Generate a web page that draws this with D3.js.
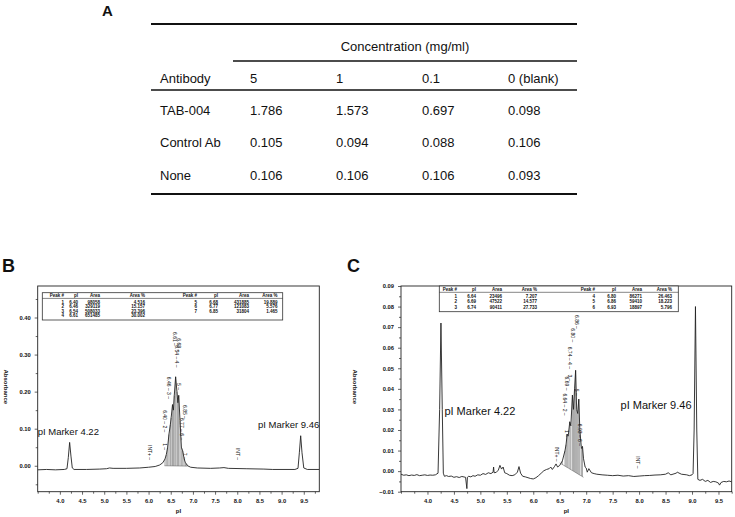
<!DOCTYPE html>
<html><head><meta charset="utf-8">
<script src="https://cdn.jsdelivr.net/npm/d3@7"></script>
<style>
body{margin:0;background:#fff}
svg{display:block}
text{font-family:"Liberation Sans",Arial,Helvetica,sans-serif;fill:#111}
</style>
</head><body>
<svg id="fig" width="735" height="517"></svg>
<script>
// ---------------- DATA ----------------
// Panel A table
const tableConcentrations = ["5", "1", "0.1", "0 (blank)"];
const tableAntibodies = ["TAB-004", "Control Ab", "None"];
const tableValues = [
  [1.786, 1.573, 0.697, 0.098],
  [0.105, 0.094, 0.088, 0.106],
  [0.106, 0.106, 0.106, 0.093]
];

// Panel B electropherogram (pI, absorbance)
const traceB = [
  [3.50,-0.011],[3.70,-0.010],[3.90,-0.011],[4.10,-0.010],[4.16,-0.008],[4.19,0.022],[4.22,0.063],
  [4.25,0.026],[4.28,-0.006],[4.32,-0.010],[4.60,-0.010],[4.90,-0.009],[5.05,-0.008],[5.12,-0.006],
  [5.20,-0.007],[5.50,-0.007],[5.80,-0.006],[6.00,-0.004],[6.15,-0.002],[6.25,0.002],[6.32,0.008],
  [6.37,0.018],[6.40,0.030],[6.43,0.050],[6.46,0.085],[6.49,0.110],[6.51,0.130],[6.54,0.165],
  [6.56,0.150],[6.58,0.190],[6.61,0.240],[6.64,0.200],[6.66,0.170],[6.68,0.190],[6.71,0.120],
  [6.74,0.050],[6.77,0.040],[6.80,0.020],[6.83,0.008],[6.85,0.006],[6.88,0.000],[6.95,-0.004],
  [7.10,-0.006],[7.40,-0.007],[7.60,-0.006],[7.70,-0.005],[7.80,-0.007],[8.20,-0.008],[8.60,-0.009],
  [8.80,-0.010],[9.30,-0.010],[9.37,-0.007],[9.40,0.035],[9.43,0.081],[9.46,0.035],[9.50,-0.006],
  [9.58,-0.010],[9.85,-0.010]
];
const dropsB = [6.37,6.40,6.43,6.46,6.49,6.51,6.54,6.56,6.58,6.61,6.64,6.66,6.68,6.71,6.74,6.77,6.80,6.83,6.85];
const dropBaseB = [[6.36, 0.000], [6.88, -0.001]];
const peakTableB = [
  [1, "6.40", 98058, "4.516"], [2, "6.46", 329119, "15.157"], [3, "6.54", 508033, "23.396"],
  [4, "6.61", 651485, "30.002"], [5, "6.68", 431885, "19.889"], [6, "6.77", 121083, "5.576"],
  [7, "6.85", 31804, "1.465"]
];
const peakLabelsB = [
  ["INT+ –", 6.03, 0.056], ["1 –", 6.37, 0.061], ["6.40 – 2 –", 6.37, 0.150], ["6.46 – 3 –", 6.445, 0.240],
  ["6.61 –", 6.58, 0.361], ["6.54 – 4 –", 6.63, 0.325], ["6.68 –", 6.69, 0.344], ["5 –", 6.69, 0.223],
  ["6.85 –", 6.81, 0.164], ["6.77 – 6 –", 6.75, 0.129], ["7 –", 6.81, 0.035], ["INT –", 8.02, 0.048]
];
const markersB = [["pI Marker 4.22", 3.5, 0.083, "start"], ["pI Marker 9.46", 9.85, 0.101, "end"]];
const xTicksB = [4.0,4.5,5.0,5.5,6.0,6.5,7.0,7.5,8.0,8.5,9.0,9.5];
const yTicksB = [0.00,0.10,0.20,0.30,0.40];

// Panel C electropherogram (pI, absorbance)
const traceC = [
  [3.50,-0.0015],[3.55,-0.0020],[3.60,-0.0018],[3.65,-0.0022],[3.70,-0.0019],[3.75,-0.0021],[3.80,-0.0017],
  [3.85,-0.0022],[3.90,-0.0020],[3.95,-0.0018],[4.00,-0.0021],[4.05,-0.0019],[4.10,-0.0020],[4.15,-0.0018],
  [4.20,-0.0010],[4.23,0.0300],[4.255,0.0720],[4.28,0.0300],[4.30,-0.0010],[4.32,-0.0025],[4.36,-0.0022],
  [4.40,-0.0026],[4.45,-0.0024],[4.50,-0.0030],[4.55,-0.0027],[4.60,-0.0031],[4.65,-0.0026],[4.72,-0.0030],
  [4.745,-0.0085],[4.755,-0.0030],[4.78,-0.0025],[4.82,-0.0028],[4.86,-0.0022],[4.90,-0.0025],[4.95,-0.0018],
  [5.00,-0.0020],[5.05,-0.0012],[5.10,-0.0016],[5.15,-0.0008],[5.20,-0.0012],[5.24,-0.0005],[5.25,0.0020],
  [5.26,-0.0008],[5.30,-0.0006],[5.34,0.0005],[5.37,0.0028],[5.40,0.0010],[5.43,0.0020],[5.46,-0.0008],
  [5.50,-0.0012],[5.55,-0.0020],[5.60,-0.0022],[5.65,-0.0018],[5.70,-0.0005],[5.73,0.0022],[5.76,-0.0010],
  [5.80,-0.0025],[5.85,-0.0028],[5.90,-0.0032],[5.95,-0.0036],[6.00,-0.0038],[6.05,-0.0032],[6.10,-0.0022],
  [6.15,-0.0010],[6.20,0.0002],[6.25,0.0008],[6.30,0.0012],[6.33,0.0020],[6.36,0.0008],[6.40,0.0022],
  [6.43,0.0035],[6.46,0.0020],[6.50,0.0028],[6.55,0.0050],[6.60,0.0100],[6.62,0.0130],[6.64,0.0180],
  [6.66,0.0170],[6.69,0.0240],[6.71,0.0220],[6.74,0.0370],[6.76,0.0300],[6.78,0.0400],[6.80,0.0490],
  [6.82,0.0300],[6.84,0.0280],[6.86,0.0350],[6.88,0.0200],[6.91,0.0110],[6.93,0.0120],[6.95,0.0060],
  [6.98,0.0020],[7.00,0.0015],[7.02,-0.0005],[7.05,0.0012],[7.10,-0.0008],[7.15,-0.0012],[7.20,-0.0015],
  [7.30,-0.0018],[7.40,-0.0020],[7.50,-0.0022],[7.60,-0.0020],[7.70,-0.0024],[7.80,-0.0022],[7.90,-0.0026],
  [8.00,-0.0024],[8.10,-0.0022],[8.20,-0.0021],[8.30,-0.0019],[8.40,-0.0018],[8.50,-0.0015],[8.55,-0.0008],
  [8.60,-0.0018],[8.70,-0.0010],[8.72,-0.0005],[8.80,-0.0015],[8.90,-0.0018],[8.95,-0.0022],[9.00,-0.0018],
  [9.02,-0.0012],[9.04,0.0200],[9.065,0.0800],[9.09,0.0200],[9.11,-0.0040],[9.15,-0.0045],[9.20,-0.0040],
  [9.25,-0.0050],[9.30,-0.0045],[9.35,-0.0055],[9.40,-0.0050],[9.45,-0.0052],[9.50,-0.0058],[9.52,-0.0068],
  [9.55,-0.0055],[9.60,-0.0050],[9.65,-0.0052],[9.70,-0.0048],[9.75,-0.0052]
];
const dropsC = [6.55,6.60,6.62,6.64,6.66,6.69,6.71,6.74,6.76,6.78,6.80,6.82,6.84,6.86,6.88,6.91,6.93];
const dropBaseC = [[6.50, 0.0040], [6.95, -0.0030]];
const peakTableC = [
  [1, "6.64", 23496, "7.207"], [2, "6.69", 47522, "14.577"], [3, "6.74", 90411, "27.733"],
  [4, "6.80", 86271, "26.463"], [5, "6.86", 59410, "18.223"], [6, "6.93", 18897, "5.796"]
];
const peakLabelsC = [
  ["6.86 –", 6.82, 0.0759], ["6.80 –", 6.745, 0.0694], ["6.74 – 4 –", 6.695, 0.0605], ["3 –", 6.68, 0.0470],
  ["6.69 –", 6.63, 0.0460], ["6.64 – 2 –", 6.59, 0.0378], ["1 –", 6.63, 0.0200], ["5 –", 6.82, 0.0400],
  ["6.93 – 6 –", 6.88, 0.0230], ["INT+ –", 6.45, 0.0120], ["INT –", 7.97, 0.0072]
];
const markersC = [["pI Marker 4.22", 4.32, 0.0273, "start"], ["pI Marker 9.46", 7.65, 0.0300, "start"]];
const xTicksC = [4.0,4.5,5.0,5.5,6.0,6.5,7.0,7.5,8.0,8.5,9.0,9.5];
const yTicksC = [-0.01,0.00,0.01,0.02,0.03,0.04,0.05,0.06,0.07,0.08,0.09];

const peakHeaders = ["Peak #", "pI", "Area", "Area %"];

// ---------------- DRAW ----------------
const svg = d3.select("#fig");

// ===== Panel A =====
(function(){
  const g = svg.append("g");
  const L = {x0:151, x1:577, sub0:233, yTop:24, yConc:46, ySub:61, yHead:78, yHeadLine:90, yBottom:194, labelX:160};
  g.append("text").attr("x",102).attr("y",16).attr("font-size",15).attr("font-weight","bold").text("A");
  const colX = d3.scalePoint().domain(tableConcentrations).range([250, 508]);
  const rowY = d3.scalePoint().domain(tableAntibodies).range([110, 175]);
  const fs = 13;
  g.append("line").attr("x1",L.x0).attr("x2",L.x1).attr("y1",L.yTop).attr("y2",L.yTop).attr("stroke","#111").attr("stroke-width",2);
  g.append("line").attr("x1",L.sub0).attr("x2",L.x1).attr("y1",L.ySub).attr("y2",L.ySub).attr("stroke","#111").attr("stroke-width",1.6);
  g.append("line").attr("x1",L.x0).attr("x2",L.x1).attr("y1",L.yHeadLine).attr("y2",L.yHeadLine).attr("stroke","#111").attr("stroke-width",1.6);
  g.append("line").attr("x1",L.x0).attr("x2",L.x1).attr("y1",L.yBottom).attr("y2",L.yBottom).attr("stroke","#111").attr("stroke-width",2);
  g.append("text").attr("x",(L.sub0+L.x1)/2).attr("y",L.yConc).attr("dy","0.35em").attr("text-anchor","middle").attr("font-size",fs).text("Concentration (mg/ml)");
  g.append("text").attr("x",L.labelX).attr("y",L.yHead).attr("dy","0.35em").attr("font-size",fs).text("Antibody");
  g.selectAll(".ch").data(tableConcentrations).join("text").attr("x",d=>colX(d)).attr("y",L.yHead).attr("dy","0.35em").attr("font-size",fs).text(d=>d);
  const fmt = d3.format(".3f");
  tableAntibodies.forEach((ab,i)=>{
    g.append("text").attr("x",L.labelX).attr("y",rowY(ab)).attr("dy","0.35em").attr("font-size",fs).text(ab);
    g.selectAll(null).data(tableValues[i]).join("text").attr("x",(d,j)=>colX(tableConcentrations[j])).attr("y",rowY(ab)).attr("dy","0.35em").attr("font-size",fs).text(d=>fmt(d));
  });
})();

// ===== electropherogram panels =====
function panel(cfg){
  const g = svg.append("g");
  const x = d3.scaleLinear().domain(cfg.xDomain).range([cfg.x0, cfg.x1]);
  const y = d3.scaleLinear().domain(cfg.yDomain).range([cfg.y1, cfg.y0]);
  const clipId = "clip"+cfg.id;
  g.append("clipPath").attr("id",clipId).append("rect").attr("x",cfg.x0).attr("y",cfg.y0).attr("width",cfg.x1-cfg.x0).attr("height",cfg.y1-cfg.y0);

  g.append("text").attr("x",cfg.letterX).attr("y",cfg.letterY).attr("font-size",18).attr("font-weight","bold").text(cfg.id);

  const xAxis = d3.axisBottom(x).tickValues(cfg.xTicks).tickFormat(d3.format(".1f")).tickSize(3).tickPadding(4);
  const gx = g.append("g").attr("transform",`translate(0,${cfg.y1})`).call(xAxis);
  const xMinor = d3.range(cfg.xDomain[0], cfg.xDomain[1]+1e-9, 0.25).filter(v=>Math.abs(v*2-Math.round(v*2))>1e-6 || v<4);
  g.append("g").attr("transform",`translate(0,${cfg.y1})`).call(d3.axisBottom(x).tickValues(xMinor).tickFormat("").tickSize(2)).select(".domain").remove();
  const yAxis = d3.axisLeft(y).tickValues(cfg.yTicks).tickFormat(d3.format(".2f")).tickSize(3).tickPadding(4);
  const gy = g.append("g").attr("transform",`translate(${cfg.x0},0)`).call(yAxis);
  g.append("g").attr("transform",`translate(${cfg.x0},0)`).call(d3.axisLeft(y).tickValues(cfg.yMinor).tickFormat("").tickSize(2)).select(".domain").remove();
  [gx, gy].forEach(a=>{
    a.select(".domain").remove();
    a.selectAll("text").attr("font-size",5.8).attr("font-weight","bold").attr("fill","#222").style("font-family","Liberation Sans, Arial, sans-serif");
  });
  g.selectAll(".tick line").attr("stroke","#222").attr("stroke-width",0.7);

  g.append("rect").attr("x",cfg.x0).attr("y",cfg.y0).attr("width",cfg.x1-cfg.x0).attr("height",cfg.y1-cfg.y0)
    .attr("fill","none").attr("stroke","#222").attr("stroke-width",0.9);

  g.append("text").attr("x",(cfg.x0+cfg.x1)/2).attr("y",cfg.y1+21).attr("text-anchor","middle").attr("font-size",6).attr("font-weight","bold").text("pI");
  g.append("text").attr("transform",`translate(${cfg.yTitleX},${(cfg.y0+cfg.y1)/2-2}) rotate(90)`).attr("text-anchor","middle").attr("font-size",6).attr("font-weight","bold").text("Absorbance");

  const plot = g.append("g").attr("clip-path",`url(#${clipId})`);
  const bx0 = cfg.dropBase[0], bx1 = cfg.dropBase[1];
  const baseAt = v => bx0[1] + (bx1[1]-bx0[1])*(v-bx0[0])/(bx1[0]-bx0[0]);
  const dropData = cfg.drops.map(p => [p, cfg.trace.find(d=>Math.abs(d[0]-p)<1e-9)[1]]);
  plot.selectAll(".drop").data(dropData).join("line")
    .attr("x1",d=>x(d[0])).attr("x2",d=>x(d[0])).attr("y1",d=>y(baseAt(d[0]))).attr("y2",d=>y(d[1]))
    .attr("stroke","#555").attr("stroke-width",0.5);
  plot.append("line").attr("x1",x(bx0[0])).attr("x2",x(bx1[0])).attr("y1",y(bx0[1])).attr("y2",y(bx1[1])).attr("stroke","#555").attr("stroke-width",0.5);
  plot.append("path").datum(cfg.trace).attr("fill","none").attr("stroke","#222").attr("stroke-width",0.9)
    .attr("d", d3.line().x(d=>x(d[0])).y(d=>y(d[1])));

  plot.selectAll(".pl").data(cfg.labels).join("text")
    .attr("transform",d=>`translate(${x(d[1])},${y(d[2])}) rotate(90)`)
    .attr("dy","0.35em").attr("font-size",5).attr("fill","#222").text(d=>d[0]);

  g.selectAll(".mk").data(cfg.markers).join("text")
    .attr("x",d=>x(d[1])).attr("y",d=>y(d[2])).attr("text-anchor",d=>d[3])
    .attr("font-size",cfg.markerSize).text(d=>d[0]);

  const T = cfg.table;
  const tg = g.append("g");
  tg.append("rect").attr("x",T.x0).attr("y",T.y0).attr("width",T.x1-T.x0).attr("height",T.y1-T.y0).attr("fill","#fff").attr("stroke","#333").attr("stroke-width",0.8);
  tg.append("line").attr("x1",T.x0).attr("x2",T.x1).attr("y1",T.headLine).attr("y2",T.headLine).attr("stroke","#333").attr("stroke-width",0.6);
  const half = Math.ceil(cfg.peakTable.length/2);
  const groups = [cfg.peakTable.slice(0,half), cfg.peakTable.slice(half)];
  groups.forEach((rows,gi)=>{
    const cols = T.cols[gi];
    peakHeaders.forEach((h,ci)=>{
      tg.append("text").attr("x",cols[ci]).attr("y",T.headY).attr("text-anchor","end").attr("font-size",4.5).attr("font-weight","bold").text(h);
    });
    rows.forEach((r,ri)=>{
      r.forEach((v,ci)=>{
        tg.append("text").attr("x",cols[ci]).attr("y",T.rowY0+ri*T.rowStep).attr("text-anchor","end").attr("font-size",4.5).attr("font-weight","bold").text(v);
      });
    });
  });
}

panel({
  id:"B", x0:37.7, x1:319.3, y0:286, y1:491.7, xDomain:[3.5,9.85], yDomain:[-0.07,0.485],
  xTicks:xTicksB, yTicks:yTicksB, yMinor:[-0.05,0.05,0.15,0.25,0.35,0.45],
  trace:traceB, drops:dropsB, dropBase:dropBaseB, labels:peakLabelsB, markers:markersB, markerSize:9.5,
  peakTable:peakTableB, letterX:2, letterY:272, yTitleX:4,
  table:{x0:42.3,x1:282.7,y0:292.7,y1:320,headY:297,headLine:298.4,rowY0:303.8,rowStep:4.4,
         cols:[[64,78,100,145],[197,218,249,277.5]]}
});
panel({
  id:"C", x0:401, x1:731.7, y0:286, y1:491.7, xDomain:[3.5,9.75], yDomain:[-0.01,0.09],
  xTicks:xTicksC, yTicks:yTicksC, yMinor:[-0.005,0.005,0.015,0.025,0.035,0.045,0.055,0.065,0.075,0.085],
  trace:traceC, drops:dropsC, dropBase:dropBaseC, labels:peakLabelsC, markers:markersC, markerSize:11,
  peakTable:peakTableC, letterX:347, letterY:272, yTitleX:353,
  table:{x0:439.3,x1:678.3,y0:286,y1:311.7,headY:290.8,headLine:292.3,rowY0:297.8,rowStep:5.4,
         cols:[[457,476,502,537],[595,616,642,672]]}
});
</script>
</body></html>
